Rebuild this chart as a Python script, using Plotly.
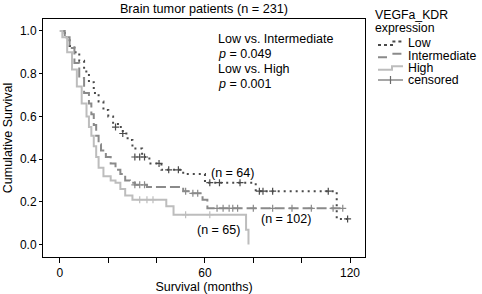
import plotly.graph_objects as go

# ---- data ----
low_t = [0, 2, 4, 6, 8, 10, 12, 14, 16, 18, 20, 22, 24, 26, 28, 30, 34, 37, 42, 51, 60, 81, 114.5, 119]
low_s = [1.0, 0.97, 0.93, 0.90, 0.86, 0.81, 0.76, 0.71, 0.67, 0.63, 0.60, 0.57, 0.55, 0.52, 0.49, 0.45, 0.41, 0.38, 0.35, 0.33, 0.29, 0.25, 0.12, 0.12]
low_cens_t = [23, 26, 31, 33, 35, 41, 45, 49, 62, 66, 74.5, 82.5, 84, 88, 111, 119]
low_cens_s = [0.55, 0.52, 0.41, 0.41, 0.41, 0.38, 0.35, 0.35, 0.29, 0.29, 0.29, 0.25, 0.25, 0.25, 0.25, 0.12]

int_t = [0, 2, 4, 6, 8, 10, 12, 13, 14, 15, 16, 17, 19, 21, 23, 25, 27, 29, 31, 36, 51, 54, 59, 61, 117]
int_s = [1.0, 0.97, 0.92, 0.85, 0.78, 0.71, 0.66, 0.61, 0.56, 0.51, 0.47, 0.44, 0.41, 0.38, 0.35, 0.33, 0.30, 0.29, 0.28, 0.27, 0.25, 0.24, 0.21, 0.17, 0.17]
int_cens_t = [31, 33, 35, 52, 55, 57, 65, 67.5, 70, 71.5, 73.5, 80, 88, 96, 104, 113, 117]
int_cens_s = [0.28, 0.28, 0.28, 0.25, 0.24, 0.24, 0.17, 0.17, 0.17, 0.17, 0.17, 0.17, 0.17, 0.17, 0.17, 0.17, 0.17]

high_t = [0, 1, 3, 5, 7, 9, 11, 12, 13, 14, 15, 16, 18, 21, 23, 25, 27, 30, 44, 47, 77, 78]
high_s = [1.0, 0.97, 0.90, 0.82, 0.74, 0.66, 0.60, 0.55, 0.51, 0.46, 0.41, 0.36, 0.32, 0.30, 0.29, 0.26, 0.23, 0.21, 0.18, 0.14, 0.07, 0.0]
high_cens_t = [33, 36, 38.5, 52, 62]
high_cens_s = [0.21, 0.21, 0.21, 0.14, 0.14]

x_tickvals = [0, 20, 40, 60, 80, 100, 120]
x_ticktext = ["0", "", "", "60", "", "", "120"]
y_tickvals = [0.0, 0.2, 0.4, 0.6, 0.8, 1.0]
y_ticktext = ["0.0", "0.2", "0.4", "0.6", "0.8", "1.0"]

legend_title = ["VEGFa_KDR", "expression"]
legend_labels = ["Low", "Intermediate", "High", "censored"]

C_LOW = "#4a4a4a"
C_INT = "#8a8a8a"
C_HIGH = "#bdbdbd"
C_CENS = "#6a6a6a"
DASH_LOW = "2px,4px"
DASH_INT = "10px,4px"
FONT = "Liberation Sans, Arial, sans-serif"

# plot area in pixels (for placing paper-referenced decorations)
L, R, T, B = 43, 365, 19, 257
W, H = R - L, B - T
def px(xp):
    return (xp - L) / W
def py(yp):
    return (B - yp) / H

fig = go.Figure()

def add_group(name, t, s, ct, cs, color, dash):
    fig.add_trace(go.Scatter(x=t, y=s, mode="lines", name=name, showlegend=False,
                             line=dict(color=color, width=2, dash=dash, shape="hv")))
    fig.add_trace(go.Scatter(x=ct, y=cs, mode="markers", showlegend=False,
                             marker=dict(symbol="cross-thin", size=5,
                                         line=dict(color=color, width=1.2))))

add_group("Low", low_t, low_s, low_cens_t, low_cens_s, C_LOW, DASH_LOW)
add_group("Intermediate", int_t, int_s, int_cens_t, int_cens_s, C_INT, DASH_INT)
add_group("High", high_t, high_s, high_cens_t, high_cens_s, C_HIGH, "solid")

ann_font = dict(family=FONT, size=12.5, color="black")
annos = [
    (217, 38.5, "Low vs. Intermediate"),
    (217, 53.5, "<i>p</i> = 0.049"),
    (217, 69, "Low vs. High"),
    (217, 83.5, "<i>p</i> = 0.001"),
]
for xp, yp, txt in annos:
    fig.add_annotation(x=px(xp), y=py(yp), xref="paper", yref="paper", borderpad=0,
                       text=txt, showarrow=False, xanchor="left", yanchor="middle", font=ann_font)

fig.add_annotation(x=71.4, y=0.334, text="(n = 64)", showarrow=False, font=ann_font)
fig.add_annotation(x=93.5, y=0.122, text="(n = 102)", showarrow=False, font=ann_font)
fig.add_annotation(x=65.6, y=0.070, text="(n = 65)", showarrow=False, font=ann_font)

# ---- manual legend (tight spacing like the reference) ----
leg_font = dict(family=FONT, size=12.3, color="black")
for i, txt in enumerate(legend_title):
    fig.add_annotation(x=px(374), y=py(15 + 13 * i), xref="paper", yref="paper", text=txt,
                       showarrow=False, xanchor="left", yanchor="middle", borderpad=0, font=leg_font)
rows = [43.3, 55.5, 68, 80]
styles = [(C_LOW, "dot"), (C_INT, "dash"), (C_HIGH, "solid")]
for i, lab in enumerate(legend_labels):
    fig.add_annotation(x=px(407), y=py(rows[i]), xref="paper", yref="paper", text=lab,
                       showarrow=False, xanchor="left", yanchor="middle", borderpad=0, font=leg_font)
for (col, dsh), yr in zip(styles, rows[:3]):
    x0, xm, x1 = px(378), px(392), px(403)
    ylo, yhi = py(yr + 1.8), py(yr - 1.8)
    fig.add_shape(type="path", xref="paper", yref="paper",
                  path=f"M {x0},{ylo} L {xm},{ylo} L {xm},{yhi} L {x1},{yhi}",
                  line=dict(color=col, width=2, dash=dsh))
fig.add_shape(type="line", xref="paper", yref="paper", x0=px(378), x1=px(403),
              y0=py(rows[3]), y1=py(rows[3]), line=dict(color=C_CENS, width=1.2))
fig.add_shape(type="line", xref="paper", yref="paper", x0=px(390.5), x1=px(390.5),
              y0=py(rows[3] - 4), y1=py(rows[3] + 4), line=dict(color=C_CENS, width=1.2))

fig.update_layout(
    width=482, height=294,
    margin=dict(l=L, r=482 - R, t=T, b=294 - B),
    paper_bgcolor="white", plot_bgcolor="white",
    showlegend=False,
    font=dict(family=FONT, size=12, color="black"),
    title=dict(text="Brain tumor patients (n = 231)", x=0.5, xref="paper", xanchor="center",
               y=1 - 8.5 / 294, yref="container", yanchor="middle",
               font=dict(family=FONT, size=12.7, color="black")),
    xaxis=dict(range=[-7, 126.2], tickvals=x_tickvals, ticktext=x_ticktext, automargin=False,
               ticks="outside", ticklen=5, tickcolor="black", showgrid=False, zeroline=False,
               showline=True, linecolor="black", linewidth=1, mirror=True,
               tickfont=dict(size=12),
               title=dict(text="Survival (months)", standoff=4, font=dict(size=12.5))),
    yaxis=dict(range=[-0.058, 1.056], tickvals=y_tickvals, ticktext=y_ticktext, automargin=False,
               ticks="outside", ticklen=3, tickcolor="black", showgrid=False, zeroline=False,
               showline=True, linecolor="black", linewidth=1, mirror=True,
               tickfont=dict(size=12),
               title=dict(text="Cumulative Survival", standoff=4, font=dict(size=12.5))),
)

fig.write_html("out.html",
               config={"displayModeBar": False, "staticPlot": True},
               post_script="document.body.style.margin='0';document.body.style.overflow='hidden';")
